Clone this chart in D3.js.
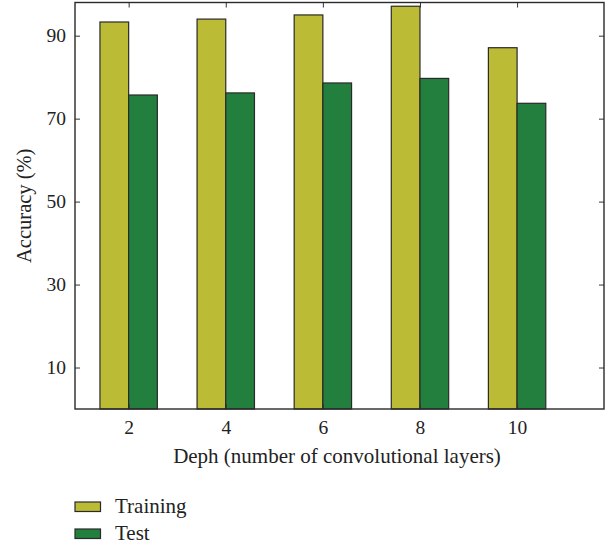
<!DOCTYPE html>
<html>
<head>
<meta charset="utf-8">
<script src="https://cdn.jsdelivr.net/npm/d3@7"></script>
<style>
  body { margin: 0; background: #fff; }
  text { font-family: "Liberation Serif", "DejaVu Serif", serif; fill: #222; }
</style>
</head>
<body>
<div id="chart"></div>
<script>
// Data
const depths = [2, 4, 6, 8, 10];
const training = [93.3, 94.0, 95.0, 97.1, 87.1];
const test = [75.7, 76.2, 78.6, 79.7, 73.7];
const yTicks = [10, 30, 50, 70, 90];
const seriesNames = ["Training", "Test"];
const seriesColors = ["#bcbb35", "#237f3e"];

const width = 611;
const height = 546;
const margin = { left: 75, right: 7, top: 2.5, bottom: 137 };

const svg = d3.select("#chart")
  .append("svg")
  .attr("width", width)
  .attr("height", height);

// Scales
const xScale = d3.scaleLinear()
  .domain([0.895, 11.79])
  .range([margin.left, width - margin.right]);

const yScale = d3.scaleLinear()
  .domain([0, 98])
  .range([height - margin.bottom, margin.top]);

const barW = 28.7;
const x0 = margin.left, x1 = width - margin.right;
const y0 = height - margin.bottom, y1 = margin.top;

// Bars
const rows = depths.map((d, i) => ({ d: d, tr: training[i], te: test[i] }));

svg.selectAll("rect.train")
  .data(rows)
  .enter()
  .append("rect")
  .attr("class", "train")
  .attr("x", r => xScale(r.d) - barW)
  .attr("y", r => yScale(r.tr))
  .attr("width", barW)
  .attr("height", r => yScale(0) - yScale(r.tr))
  .attr("fill", seriesColors[0])
  .attr("stroke", "#2a2a2a")
  .attr("stroke-width", 1.2);

svg.selectAll("rect.test")
  .data(rows)
  .enter()
  .append("rect")
  .attr("class", "test")
  .attr("x", r => xScale(r.d))
  .attr("y", r => yScale(r.te))
  .attr("width", barW)
  .attr("height", r => yScale(0) - yScale(r.te))
  .attr("fill", seriesColors[1])
  .attr("stroke", "#2a2a2a")
  .attr("stroke-width", 1.2);

// Axes (ticks inward)
const axisFont = g => g.selectAll("text")
  .style("font-family", "'Liberation Serif', serif")
  .style("font-size", "19.5px")
  .attr("fill", "#222");

svg.append("g")
  .attr("transform", `translate(0,${y0})`)
  .call(d3.axisBottom(xScale).tickValues(depths).tickSizeInner(-5).tickSizeOuter(0).tickPadding(11))
  .call(g => g.select(".domain").remove())
  .call(g => g.selectAll("line").attr("stroke", "#333"))
  .call(axisFont);

svg.append("g")
  .attr("transform", `translate(0,${y1})`)
  .call(d3.axisTop(xScale).tickValues(depths).tickSizeInner(-5).tickSizeOuter(0).tickFormat(""))
  .call(g => g.select(".domain").remove())
  .call(g => g.selectAll("line").attr("stroke", "#333"));

svg.append("g")
  .attr("transform", `translate(${x0},0)`)
  .call(d3.axisLeft(yScale).tickValues(yTicks).tickSizeInner(-5).tickSizeOuter(0).tickPadding(9))
  .call(g => g.select(".domain").remove())
  .call(g => g.selectAll("line").attr("stroke", "#333"))
  .call(axisFont);

svg.append("g")
  .attr("transform", `translate(${x1},0)`)
  .call(d3.axisRight(yScale).tickValues(yTicks).tickSizeInner(-5).tickSizeOuter(0).tickFormat(""))
  .call(g => g.select(".domain").remove())
  .call(g => g.selectAll("line").attr("stroke", "#333"));

// Frame
svg.append("rect")
  .attr("x", x0)
  .attr("y", y1)
  .attr("width", x1 - x0)
  .attr("height", y0 - y1)
  .attr("fill", "none")
  .attr("stroke", "#2a2a2a")
  .attr("stroke-width", 1.4);

// Axis titles
svg.append("text")
  .attr("x", 337)
  .attr("y", 463)
  .attr("text-anchor", "middle")
  .style("font-size", "21px")
  .text("Deph (number of convolutional layers)");

svg.append("text")
  .attr("transform", `translate(31,${(y0 + y1) / 2}) rotate(-90)`)
  .attr("text-anchor", "middle")
  .style("font-size", "20.5px")
  .text("Accuracy (%)");

// Legend
const legend = svg.selectAll("g.legend")
  .data(seriesNames)
  .enter()
  .append("g")
  .attr("class", "legend")
  .attr("transform", (d, i) => `translate(75,${502 + i * 27})`);

legend.append("rect")
  .attr("width", 25.5)
  .attr("height", 9.5)
  .attr("fill", (d, i) => seriesColors[i])
  .attr("stroke", "#2a2a2a")
  .attr("stroke-width", 1.2);

legend.append("text")
  .attr("x", 40)
  .attr("y", 10.5)
  .style("font-size", "21px")
  .text(d => d);
</script>
</body>
</html>
